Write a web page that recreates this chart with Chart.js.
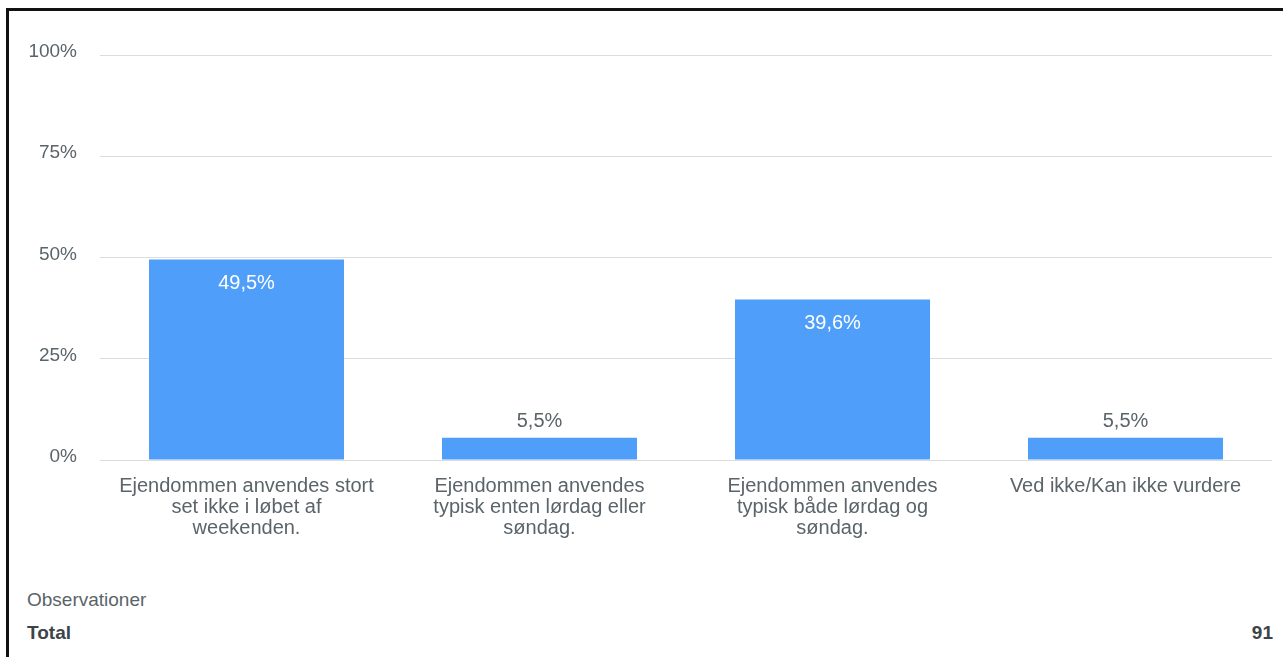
<!DOCTYPE html>
<html>
<head>
<meta charset="utf-8">
<script src="https://cdn.jsdelivr.net/npm/chart.js@4"></script>
<style>
    html, body { margin: 0; padding: 0; background: #fff; overflow: hidden; }
    body { width: 1283px; height: 657px; position: relative; font-family: "Liberation Sans", Arial, sans-serif; }
    #frame { position: absolute; left: 6px; top: 8px; width: 1300px; height: 700px; border: 3px solid #111; box-sizing: border-box; }
    #wrap { position: absolute; left: 0; top: 0; width: 1283px; height: 580px; }
    .obs { position: absolute; left: 27px; top: 589px; font-size: 19px; color: #5a6469; }
    .total { position: absolute; left: 27px; right: 10px; top: 622px; font-size: 19px; font-weight: bold; color: #3c4448; }
    .total span { position: absolute; right: 0; }
</style>
</head>
<body>
<div id="frame"></div>
<div id="wrap"><canvas id="chart"></canvas></div>
<div class="obs">Observationer</div>
<div class="total">Total<span>91</span></div>

<script>
// Categories (pre-wrapped as in the original)
const categories = [
    ['Ejendommen anvendes stort', 'set ikke i løbet af', 'weekenden.'],
    ['Ejendommen anvendes', 'typisk enten lørdag eller', 'søndag.'],
    ['Ejendommen anvendes', 'typisk både lørdag og', 'søndag.'],
    ['Ved ikke/Kan ikke vurdere']
];
const shares = [49.5, 5.5, 39.6, 5.5];
const yTicks = [0, 25, 50, 75, 100];

const textGray = '#5a6469';
const barBlue = '#4f9ef9';

const fmt = v => v.toFixed(1).replace('.', ',') + '%';

// Value labels: inside the bar when it is tall, above it otherwise
const valueLabels = {
    id: 'valueLabels',
    afterDatasetsDraw(chart) {
        const ctx = chart.ctx;
        const meta = chart.getDatasetMeta(0);
        ctx.save();
        ctx.font = '20px "Liberation Sans", Arial, sans-serif';
        ctx.textAlign = 'center';
        ctx.textBaseline = 'middle';
        meta.data.forEach((bar, i) => {
            const v = shares[i];
            if (v > 20) {
                ctx.fillStyle = '#ffffff';
                ctx.fillText(fmt(v), bar.x, bar.y + 24);
            } else {
                ctx.fillStyle = textGray;
                ctx.fillText(fmt(v), bar.x, bar.y - 16);
            }
        });
        ctx.restore();
    }
};

new Chart(document.getElementById('chart'), {
    type: 'bar',
    data: {
        labels: categories,
        datasets: [{
            data: shares,
            backgroundColor: barBlue,
            borderWidth: 0,
            categoryPercentage: 1,
            barPercentage: 0.6655
        }]
    },
    options: {
        responsive: true,
        maintainAspectRatio: false,
        animation: false,
        layout: { padding: { top: 55, right: 11, left: 0, bottom: 0 } },
        plugins: {
            legend: { display: false },
            tooltip: { enabled: false }
        },
        scales: {
            x: {
                grid: { display: false },
                border: { display: false },
                ticks: {
                    color: textGray,
                    font: { size: 20, family: '"Liberation Sans", Arial, sans-serif', lineHeight: 1.05 },
                    padding: 8,
                    maxRotation: 0,
                    autoSkip: false
                },
                afterFit(scale) { scale.height = 120; }
            },
            y: {
                min: 0,
                max: 100,
                afterBuildTicks(scale) { scale.ticks = yTicks.map(v => ({ value: v })); },
                grid: { color: '#dcdcdc', drawTicks: false, lineWidth: 1 },
                border: { display: false },
                ticks: {
                    color: textGray,
                    font: { size: 19, family: '"Liberation Sans", Arial, sans-serif' },
                    padding: 23,
                    labelOffset: -3,
                    callback: v => v + '%'
                },
                afterFit(scale) { scale.width = 100; }
            }
        }
    },
    plugins: [valueLabels]
});
</script>
</body>
</html>
